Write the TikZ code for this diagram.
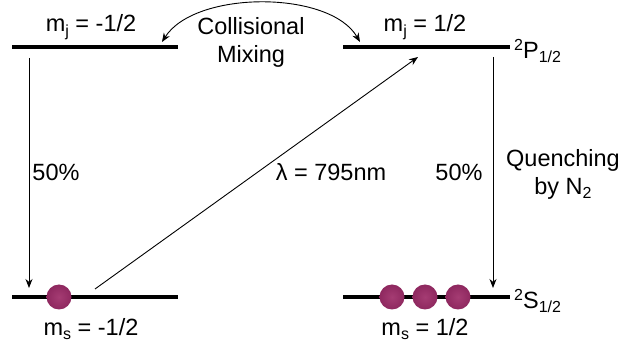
\documentclass[tikz,border=0pt]{standalone}
\usepackage{fontspec}
\setmainfont{Liberation Sans}
\usetikzlibrary{arrows.meta}
\newcommand{\lowr}[1]{\raisebox{-0.35ex}{\fontsize{16}{16}\selectfont #1}}
\newcommand{\uppr}[1]{\raisebox{0.6ex}{\fontsize{16}{16}\selectfont #1}}
\definecolor{atomc}{RGB}{142,40,95}
\definecolor{atomh}{RGB}{165,60,115}
\begin{document}
\begin{tikzpicture}[x=1pt,y=-1pt,
  level/.style={line width=3.5pt},
  conn/.style={line width=0.9pt,-{Stealth[length=9pt,width=7pt]}},
  lbl/.style={font=\fontsize{23.5}{28}\selectfont,inner sep=0pt,align=center},
  atom/.style={circle,minimum size=25pt,inner sep=0pt,inner color=atomh,outer color=atomc}]
\useasboundingbox (0,0) rectangle (622,347);
% levels
\coordinate (pl1) at (12,47); \coordinate (pl2) at (178,47);
\coordinate (pr1) at (343,47); \coordinate (pr2) at (510,47);
\coordinate (sl1) at (12,297); \coordinate (sl2) at (178,297);
\coordinate (sr1) at (343,297); \coordinate (sr2) at (510,297);
\draw[level] (pl1) -- (pl2);
\draw[level] (pr1) -- (pr2);
\draw[level] (sl1) -- (sl2);
\draw[level] (sr1) -- (sr2);
% atoms
\node[atom] (a1) at (59,297) {};
\node[atom] (a2) at (392,297) {};
\node[atom] (a3) at (425,297) {};
\node[atom] (a4) at (458,297) {};
% arrow endpoints
\coordinate (d1s) at (29,58); \coordinate (d1e) at (29,288);
\coordinate (d2s) at (493,57); \coordinate (d2e) at (493,288);
\coordinate (ls) at (95,289); \coordinate (le) at (418,57);
\coordinate (cs) at (360,42); \coordinate (ce) at (162,42);
\draw[conn] (d1s) -- (d1e);
\draw[conn] (d2s) -- (d2e);
\draw[conn] (ls) -- (le);
\draw[line width=0.9pt,{Stealth[length=9pt,width=7pt]}-{Stealth[length=9pt,width=7pt]}] (cs) .. controls (330,-10) and (195,-10) .. (ce);
% labels
\node[lbl] (t1) at (91,27) {m\lowr{j} = -1/2};
\node[lbl] (t2) at (425,27) {m\lowr{j} = 1/2};
\node[lbl] (t3) at (251,42) {Collisional\\Mixing};
\node[lbl,anchor=west] (t4) at (514,51) {\uppr{2}P\lowr{1/2}};
\node[lbl,anchor=west] (t5) at (514,301) {\uppr{2}S\lowr{1/2}};
\node[lbl] (t6) at (91,329) {m\lowr{s} = -1/2};
\node[lbl] (t7) at (425,329) {m\lowr{s} = 1/2};
\node[lbl] (t8) at (56,172) {50\%};
\node[lbl] (t9) at (459,172) {50\%};
\node[lbl] (t10) at (331,172) {λ = 795nm};
\node[lbl] (t11) at (563,174) {Quenching\\by N\lowr{2}};
\end{tikzpicture}
\end{document}
